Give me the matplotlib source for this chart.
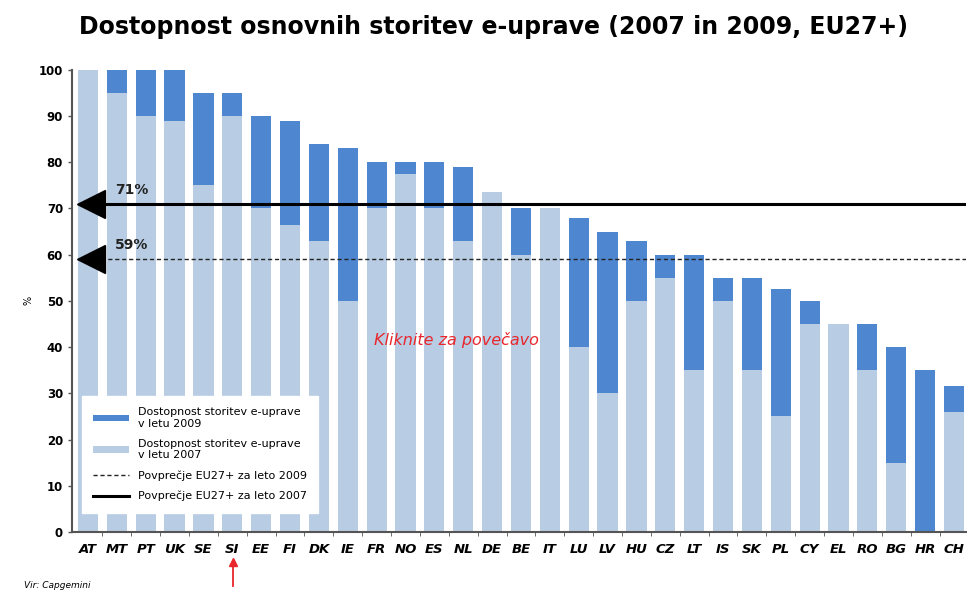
import matplotlib.pyplot as plt
import numpy as np

countries = ['AT', 'MT', 'PT', 'UK', 'SE', 'SI', 'EE', 'FI', 'DK', 'IE', 'FR', 'NO', 'ES', 'NL', 'DE',
             'BE', 'IT', 'LU', 'LV', 'HU', 'CZ', 'LT', 'IS', 'SK', 'PL', 'CY', 'EL', 'RO', 'BG', 'HR', 'CH']
v2007 = [100, 95, 90, 89, 75, 90, 70, 66.5, 63, 50, 70, 77.5, 70, 63, 73.5,
         60, 70, 40, 30, 50, 55, 35, 50, 35, 25, 45, 45, 35, 15, 0, 26]
v2009 = [100, 100, 100, 100, 95, 95, 90, 89, 84, 83, 80, 80, 80, 79, 73.5,
         70, 70, 68, 65, 63, 60, 60, 55, 55, 52.5, 50, 45, 45, 40, 35, 31.5]
avg2007 = 71
avg2009 = 59

dark = '#4e86cf'
light = '#b8cce4'

fig = plt.figure(figsize=(9.67, 5.97), dpi=100)
ax = fig.add_axes([0.0745, 0.109, 0.924, 0.774])

x = np.arange(len(countries))
gain = np.array(v2009) - np.array(v2007)
b07 = ax.bar(x, v2007, width=0.7, color=light, zorder=2)
b09 = ax.bar(x, gain, bottom=v2007, width=0.7, color=dark, zorder=2)

l09, = ax.plot([-0.28, 30.4], [avg2009, avg2009], color='#222222', lw=1, ls=(0, (3, 2)), zorder=3)
l07, = ax.plot([-0.28, 30.4], [avg2007, avg2007], color='black', lw=2.2, zorder=3)
ax.plot([0.1, 0.1], [avg2007, avg2009], ls='none', marker='<', ms=20, color='black', zorder=4)
ax.text(0.95, avg2007 + 2.2, '%d%%' % avg2007, fontsize=10, fontweight='bold', color='#222222', zorder=5)
ax.text(0.95, avg2009 + 2.2, '%d%%' % avg2009, fontsize=10, fontweight='bold', color='#222222', zorder=5)

ax.set_yticks(range(0, 101, 10))
ax.set_xticks(x)
ax.set_xticklabels(countries, fontsize=9.5, fontweight='bold', fontstyle='italic')
ax.set_xticks(x[:-1] + 0.5, minor=True)
ax.set_xlim(-0.55, 30.4)
ax.set_ylim(0, 100)
for t in ax.get_yticklabels():
    t.set_fontsize(8.5)
    t.set_fontweight('bold')
ax.tick_params(axis='x', which='major', length=0, pad=8)
ax.tick_params(axis='x', which='minor', length=3, color='#555555')
ax.tick_params(axis='y', length=3, width=1, color='#555555')
for s in ['top', 'right']:
    ax.spines[s].set_visible(False)
ax.spines['left'].set_color('#555555')
ax.spines['bottom'].set_color('#555555')
ax.spines['left'].set_linewidth(1.5)
ax.spines['bottom'].set_linewidth(1.5)
ax.set_ylabel('%', fontsize=7, labelpad=4)

leg = ax.legend([b09, b07, l09, l07],
                ['Dostopnost storitev e-uprave\nv letu 2009', 'Dostopnost storitev e-uprave\nv letu 2007',
                 'Povprečje EU27+ za leto 2009', 'Povprečje EU27+ za leto 2007'],
                loc='lower left', bbox_to_anchor=(0.005, 0.03), fontsize=8, frameon=True,
                fancybox=False, edgecolor='white', framealpha=1, handlelength=3.2,
                handleheight=0.5, labelspacing=0.9, borderpad=1.0)
leg.set_zorder(6)

ax.text(0.43, 0.415, 'Kliknite za povečavo', transform=ax.transAxes, color='#e8262b',
        fontsize=11.5, fontstyle='italic', ha='center', va='center', zorder=7)

fig.text(0.51, 0.955, 'Dostopnost osnovnih storitev e-uprave (2007 in 2009, EU27+)',
         fontsize=17, fontweight='bold', ha='center', va='center', family='DejaVu Sans')
fig.text(0.025, 0.012, 'Vir: Capgemini', fontsize=6.5, fontstyle='italic', ha='left', va='bottom')
fig.add_artist(plt.Line2D([0.241, 0.241], [0.018, 0.058], color='#e8262b', lw=1.3))
fig.add_artist(plt.Line2D([0.241], [0.058], marker='^', ms=6, color='#e8262b'))

fig.savefig('out.png', dpi=100)
